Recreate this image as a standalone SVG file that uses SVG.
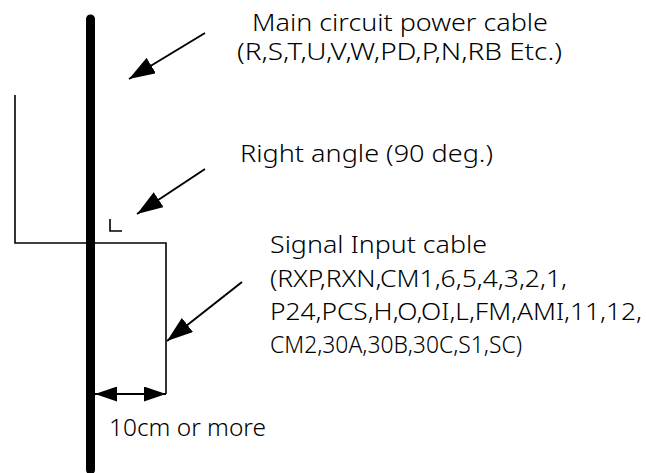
<svg xmlns="http://www.w3.org/2000/svg" width="646" height="473" viewBox="0 0 646 473">
<style>
text{font-family:"Noto Sans","Open Sans","Liberation Sans",sans-serif;font-size:23px;font-weight:300;fill:#000}
.thin{fill:none;stroke:#000;stroke-width:1.6}
.ptr{fill:none;stroke:#000;stroke-width:2}
</style>
<defs>
<marker id="ah" viewBox="0 0 26 18" refX="26" refY="9" markerWidth="26" markerHeight="18" markerUnits="userSpaceOnUse" orient="auto-start-reverse">
<path d="M0,0 L26,9 L0,18 Z" fill="#000"/>
</marker>
<marker id="dh" viewBox="0 0 22 15" refX="22" refY="7.5" markerWidth="22" markerHeight="15" markerUnits="userSpaceOnUse" orient="auto-start-reverse">
<path d="M0,0 L22,7.5 L0,15 Z" fill="#000"/>
</marker>
</defs>
<g id="power-cable">
<line x1="90.5" y1="19" x2="90.5" y2="470" stroke="#000" stroke-width="9" stroke-linecap="round"/>
</g>
<g id="signal-cable">
<polyline class="thin" points="15,95 15,243 166,243 166,394"/>
</g>
<g id="right-angle-mark">
<polyline class="thin" points="110,219 110,231 122,231"/>
</g>
<g id="connectors">
<line class="ptr" x1="205" y1="33" x2="129" y2="79" marker-end="url(#ah)"/>
<line class="ptr" x1="205" y1="169" x2="137" y2="214" marker-end="url(#ah)"/>
<line class="ptr" x1="242" y1="282" x2="167" y2="341" marker-end="url(#ah)"/>
<line class="ptr" x1="95" y1="394" x2="166" y2="394" marker-start="url(#dh)" marker-end="url(#dh)"/>
</g>
<g id="label-power">
<text x="252" y="31" textLength="296" lengthAdjust="spacingAndGlyphs">Main circuit power cable</text>
<text x="237" y="60" textLength="325" lengthAdjust="spacingAndGlyphs">(R,S,T,U,V,W,PD,P,N,RB Etc.)</text>
</g>
<g id="label-angle">
<text x="240" y="162" textLength="253" lengthAdjust="spacingAndGlyphs">Right angle (90 deg.)</text>
</g>
<g id="label-signal">
<text x="270" y="253" textLength="217" lengthAdjust="spacingAndGlyphs">Signal Input cable</text>
<text x="270" y="287" textLength="297" lengthAdjust="spacingAndGlyphs">(RXP,RXN,CM1,6,5,4,3,2,1,</text>
<text x="270" y="320" textLength="372" lengthAdjust="spacingAndGlyphs">P24,PCS,H,O,OI,L,FM,AMI,11,12,</text>
<text x="270" y="353" textLength="252" lengthAdjust="spacingAndGlyphs">CM2,30A,30B,30C,S1,SC)</text>
</g>
<g id="label-distance">
<text x="109" y="436" textLength="157" lengthAdjust="spacingAndGlyphs">10cm or more</text>
</g>
</svg>
